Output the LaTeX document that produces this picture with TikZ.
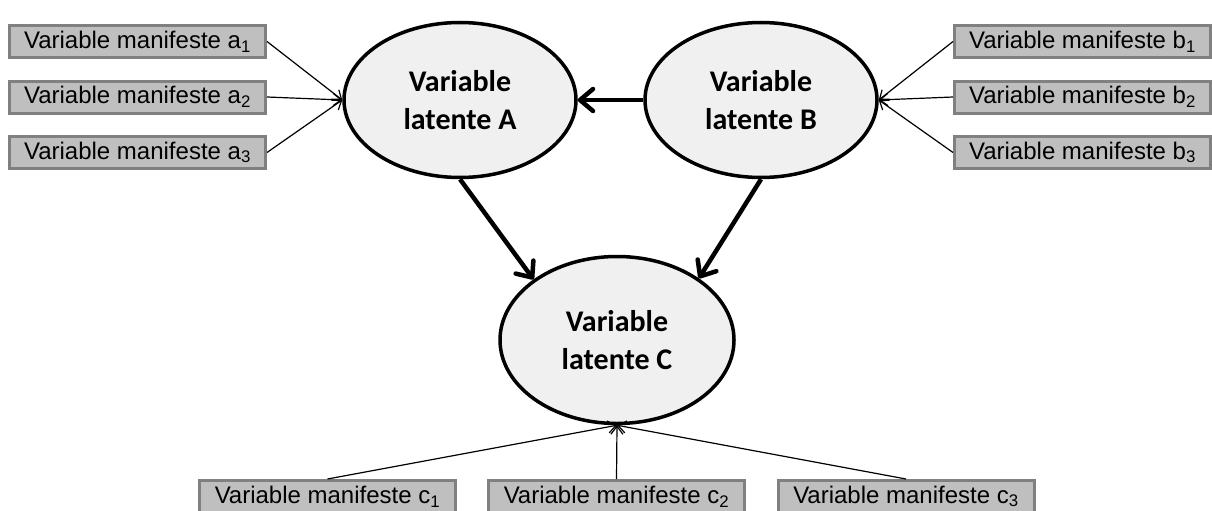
\documentclass[tikz,border=0pt]{standalone}
\usepackage{fontspec}
\setmainfont{Liberation Sans}
\newfontfamily\calibri{Carlito}
\usetikzlibrary{shapes.geometric,arrows.meta}

\begin{document}
\begin{tikzpicture}[
		x=1pt, y=-1pt,
		manifeste/.style={draw=gray, fill=gray!50, line width=3pt,
			minimum width=256pt, minimum height=32pt, inner sep=0pt,
			font=\fontsize{24}{28}\selectfont},
		latente/.style={ellipse, draw, fill=black!6, line width=3.5pt,
			minimum width=232pt, minimum height=155pt, inner sep=0pt,
			align=center, font=\calibri\bfseries\fontsize{30}{38}\selectfont},
		fin/.style={line width=1.2pt, -{Straight Barb[length=8pt,width=12pt]}},
		gros/.style={line width=4.5pt, -{Straight Barb[length=13pt,width=22pt,round]}}
	]
		\useasboundingbox (0,0) rectangle (1212,511);
		% variables latentes
		\node[latente] (A) at (460,100) {Variable\\latente A};
		\node[latente] (B) at (761,100) {Variable\\latente B};
		\node[latente, minimum width=234pt, minimum height=167pt] (C) at (617,340) {Variable\\latente C};
		% variables manifestes
		\node[manifeste] (a1) at (137.5,41.5) {Variable manifeste a\textsubscript{1}};
		\node[manifeste] (a2) at (137.5,97) {Variable manifeste a\textsubscript{2}};
		\node[manifeste] (a3) at (137.5,152.5) {Variable manifeste a\textsubscript{3}};
		\node[manifeste] (b1) at (1082.5,41.5) {Variable manifeste b\textsubscript{1}};
		\node[manifeste] (b2) at (1082.5,97) {Variable manifeste b\textsubscript{2}};
		\node[manifeste] (b3) at (1082.5,152.5) {Variable manifeste b\textsubscript{3}};
		\node[manifeste] (c1) at (327.5,496.5) {Variable manifeste c\textsubscript{1}};
		\node[manifeste] (c2) at (616.5,496.5) {Variable manifeste c\textsubscript{2}};
		\node[manifeste] (c3) at (906,496.5) {Variable manifeste c\textsubscript{3}};
		% liens
		\draw[fin] (a1.east) -- (A.west);
		\draw[fin] (a2.east) -- (A.west);
		\draw[fin] (a3.east) -- (A.west);
		\draw[fin] (b1.west) -- (B.east);
		\draw[fin] (b2.west) -- (B.east);
		\draw[fin] (b3.west) -- (B.east);
		\draw[fin] (c1.north) -- (C.south);
		\draw[fin] (c2.north) -- (C.south);
		\draw[fin] (c3.north) -- (C.south);
		\draw[gros] (B.west) -- (A.east);
		\draw[gros] (A.south) -- (C.144);
		\draw[gros] (B.south) -- (C.37);
	\end{tikzpicture}
\end{document}
